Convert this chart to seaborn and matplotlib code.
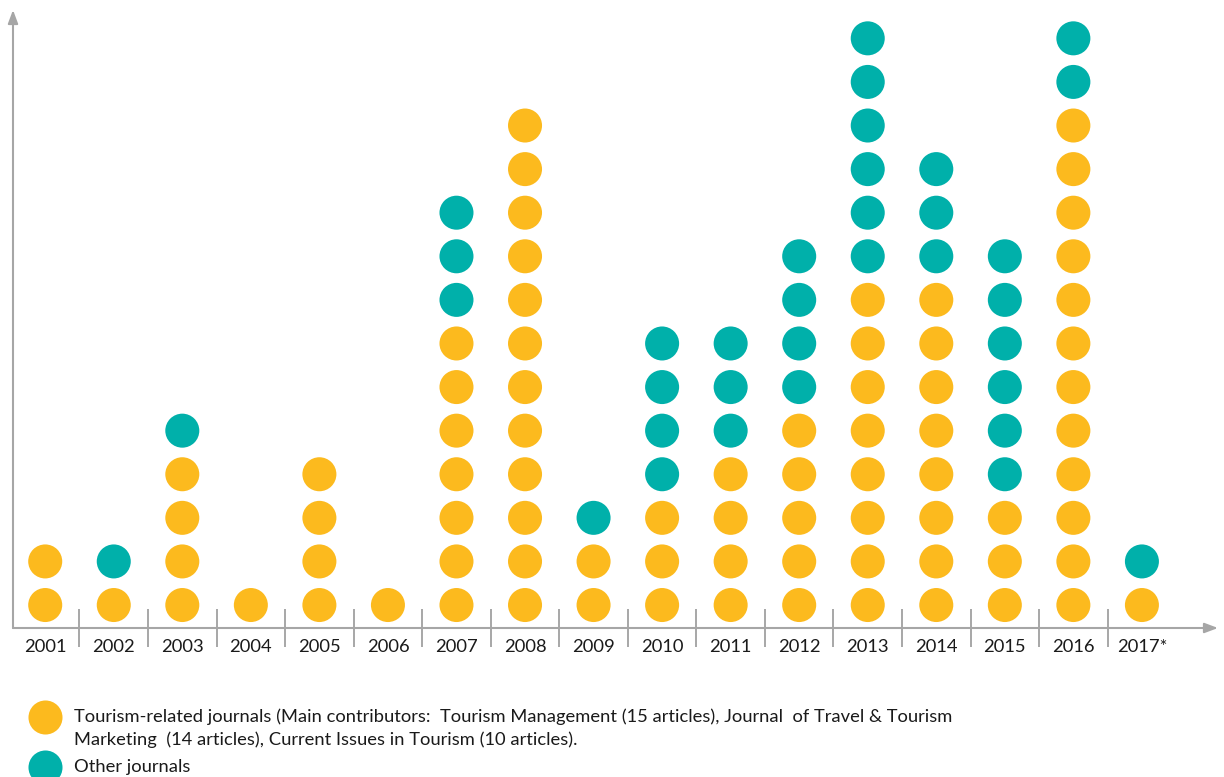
import matplotlib
matplotlib.use("Agg")
import matplotlib.pyplot as plt
from matplotlib.lines import Line2D
import seaborn as sns
import pandas as pd

years = ["2001", "2002", "2003", "2004", "2005", "2006", "2007", "2008", "2009",
         "2010", "2011", "2012", "2013", "2014", "2015", "2016", "2017*"]
tourism = [2, 1, 4, 1, 4, 1, 7, 12, 2, 3, 4, 5, 8, 8, 3, 12, 1]
other = [0, 1, 1, 0, 0, 0, 3, 0, 1, 4, 3, 4, 6, 3, 6, 2, 1]

YELLOW = "#FCBA1E"
TEAL = "#00B0AA"
legend_labels = [
    "Tourism-related journals (Main contributors:  Tourism Management (15 articles), Journal  of Travel & Tourism\n"
    "Marketing  (14 articles), Current Issues in Tourism (10 articles).",
    "Other journals",
]

rows = []
for i, y in enumerate(years):
    for k in range(tourism[i]):
        rows.append({"x": i, "level": k + 1, "kind": "Tourism"})
    for k in range(other[i]):
        rows.append({"x": i, "level": tourism[i] + k + 1, "kind": "Other"})
df = pd.DataFrame(rows)

sns.set_style("white")
plt.rcParams["font.family"] = ["Lato", "DejaVu Sans"]

W, H = 1224, 777
fig = plt.figure(figsize=(W / 100, H / 100), dpi=100)
ax = fig.add_axes([13 / W, 1 - 628 / H, (1218 - 13) / W, (628 - 10) / H])

sns.scatterplot(data=df, x="x", y="level", hue="kind",
                palette={"Tourism": YELLOW, "Other": TEAL},
                s=600, linewidth=0, legend=False, ax=ax, clip_on=False)

ax.set_xlim(-0.47, 17.11)
ax.set_ylim(0.473, 14.65)
ax.set_xlabel("")
ax.set_ylabel("")
ax.set_yticks([])
ax.set_xticks(range(len(years)))
ax.set_xticklabels(years, fontsize=13.2, color="#1a1a1a")
ax.set_xticks([i + 0.5 for i in range(len(years) - 1)], minor=True)
ax.tick_params(axis="x", which="both", bottom=True)
ax.tick_params(axis="x", which="major", length=0, pad=8)
ax.tick_params(axis="x", which="minor", direction="inout", length=28,
               width=1.3, color="#a0a0a0")
for s in ["top", "right", "left", "bottom"]:
    ax.spines[s].set_visible(False)

axis_col = "#a6a6a6"
ax.annotate("", xy=(1, 0), xytext=(0, 0), xycoords="axes fraction",
            arrowprops=dict(arrowstyle="-|>,head_length=0.8,head_width=0.3",
                            color=axis_col, lw=1.5, shrinkA=0, shrinkB=0))
ax.annotate("", xy=(0, 1), xytext=(0, 0), xycoords="axes fraction",
            arrowprops=dict(arrowstyle="-|>,head_length=0.8,head_width=0.3",
                            color=axis_col, lw=1.5, shrinkA=0, shrinkB=0))

# Legend
for yy, col in [(717, YELLOW), (767, TEAL)]:
    fig.add_artist(Line2D([45 / W], [1 - yy / H], marker="o", markersize=24.5,
                          color=col, markeredgewidth=0, linestyle="none",
                          transform=fig.transFigure))
fs = 13.2
fig.text(74 / W, 1 - 717 / H, legend_labels[0].split("\n")[0], fontsize=fs,
         va="center", ha="left", color="#1a1a1a")
fig.text(74 / W, 1 - 740 / H, legend_labels[0].split("\n")[1], fontsize=fs,
         va="center", ha="left", color="#1a1a1a")
fig.text(74 / W, 1 - 767 / H, legend_labels[1], fontsize=fs,
         va="center", ha="left", color="#1a1a1a")

fig.savefig("out.png", dpi=100)
